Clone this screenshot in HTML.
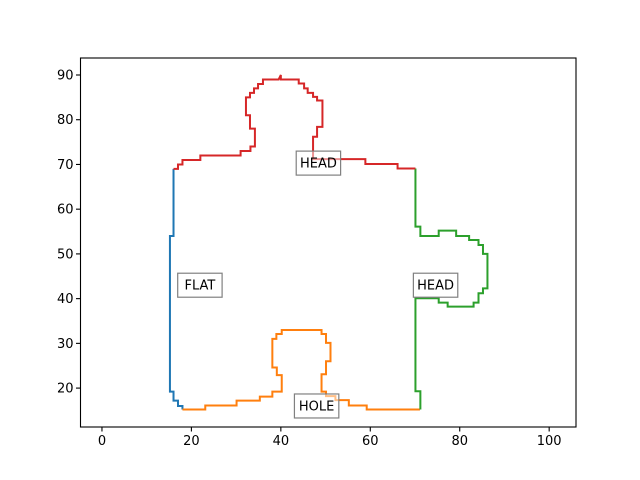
<!DOCTYPE html>
<html><head><meta charset="utf-8"><style>
html,body{margin:0;padding:0;background:#fff;}
svg{display:block;font-family:"DejaVu Sans","Liberation Sans",sans-serif;}
</style></head><body>
<svg id="chart" width="640" height="480">
<rect width="640" height="480" fill="#fff"/>
<g id="plot"></g>
</svg>
<script>
const xTicks=[0,20,40,60,80,100];
const yTicks=[20,30,40,50,60,70,80,90];
const flatX=[16,16,15.2,15.2,16,16,17,17,18,18];
const flatY=[69,54,54,19.2,19.2,17.2,17.2,16,16,15.2];
const holeX=[18,23.1,23.1,30.1,30.1,35.3,35.3,38.1,38.1,40.2,40.2,39.1,39.1,38.1,38.1,39,39,40.2,40.2,49.1,49.1,50.1,50.1,51.1,51.1,50.1,50.1,49.1,49.1,50.1,50.1,52.2,52.2,55.2,55.2,59.2,59.2,71.1];
const holeY=[15.2,15.2,16.1,16.1,17.2,17.2,18.1,18.1,19.2,19.2,22.9,22.9,24.6,24.6,31,31,32.1,32.1,33,33,32.1,32.1,30.1,30.1,26,26,23.1,23.1,19.2,19.2,18.2,18.2,17.3,17.3,16.1,16.1,15.2,15.2];
const headRX=[70.1,70.1,71.2,71.2,75.3,75.3,79.2,79.2,82.1,82.1,84.2,84.2,85.2,85.2,86.2,86.2,85.2,85.2,84.2,84.2,83.1,83.1,77.3,77.3,75.3,75.3,70.1,70.1,71.2,71.2];
const headRY=[69.1,56.1,56.1,54,54,55.2,55.2,54,54,53.1,53.1,52,52,50,50,42.3,42.3,41.2,41.2,39.1,39.1,38.2,38.2,39.1,39.1,40.1,40.1,19.3,19.3,15.2];
const headTX=[16,17,17,18,18,22,22,31,31,33.2,33.2,34.2,34.2,33.1,33.1,32.2,32.2,33.1,33.1,34,34,34.9,34.9,36,36,39.5,40,40,44,44,45.2,45.2,46,46,47.2,47.2,48.1,48.1,49.3,49.3,48.1,48.1,47.2,47.2,58.9,58.9,66.1,66.1,70.1];
const headTY=[69,69,70,70,71,71,72,72,73,73,74,74,78,78,81,81,85,85,86,86,87,87,88,88,89,89,90,89,89,88.1,88.1,87,87,86,86,85.1,85.1,84.3,84.3,78.4,78.4,76.2,76.2,71.2,71.2,70.1,70.1,69.1,69.1];
const labelText=["FLAT","HEAD","HEAD","HOLE"];
const labelX=[21.9,48.4,74.6,48];
const labelY=[43,70.3,43,16];

const L=80.5,R=576,T=58,B=427;
const X0=-4.8,X1=106,Y0=11.3,Y1=93.8;
const sx=v=>L+(v-X0)/(X1-X0)*(R-L);
const sy=v=>B-(v-Y0)/(Y1-Y0)*(B-T);
const NS="http://www.w3.org/2000/svg";
const g=document.getElementById('plot');
function mk(tag,attrs,parent){const e=document.createElementNS(NS,tag);for(const k in attrs)e.setAttribute(k,attrs[k]);(parent||g).appendChild(e);return e;}

const series=[[flatX,flatY,'#1f77b4','flat-edge-line'],[holeX,holeY,'#ff7f0e','hole-edge-line'],[headRX,headRY,'#2ca02c','right-head-edge-line'],[headTX,headTY,'#d62728','top-head-edge-line']];
series.forEach(s=>{
  const pts=s[0].map((x,i)=>sx(x).toFixed(2)+','+sy(s[1][i]).toFixed(2)).join(' ');
  const p=mk('polyline',{points:pts,fill:'none',stroke:s[2],'stroke-width':2,'stroke-linejoin':'miter'});
  
  
});

labelText.forEach((t,i)=>{
  const cx=sx(labelX[i]),cy=sy(labelY[i]);
  const w=t.length*8.6+10,h=24;
  const grp=mk('g',{});
  
  
  mk('rect',{x:cx-w/2,y:cy-h/2,width:w,height:h,fill:'rgba(255,255,255,0.5)',stroke:'rgba(128,128,128,1)','stroke-width':1.2},grp);
  const tx=mk('text',{x:cx,y:cy+4.5,'text-anchor':'middle','font-size':13,fill:'#000'},grp);
  tx.textContent=t;
});

const frame=mk('rect',{x:L,y:T,width:R-L,height:B-T,fill:'none',stroke:'#000','stroke-width':1.1});



xTicks.forEach(v=>{
  const x=sx(v);
  const tk=mk('line',{x1:x,x2:x,y1:B,y2:B+4.5,stroke:'#000','stroke-width':1.1});
  
  
  const t=mk('text',{x:x,y:B+18,'text-anchor':'middle','font-size':13,fill:'#000'});
  
  
  t.textContent=v;
});
yTicks.forEach(v=>{
  const y=sy(v);
  const tk=mk('line',{x1:L-4.5,x2:L,y1:y,y2:y,stroke:'#000','stroke-width':1.1});
  
  
  const t=mk('text',{x:L-7,y:y+4.5,'text-anchor':'end','font-size':13,fill:'#000'});
  
  
  t.textContent=v;
});
</script>
</body></html>
